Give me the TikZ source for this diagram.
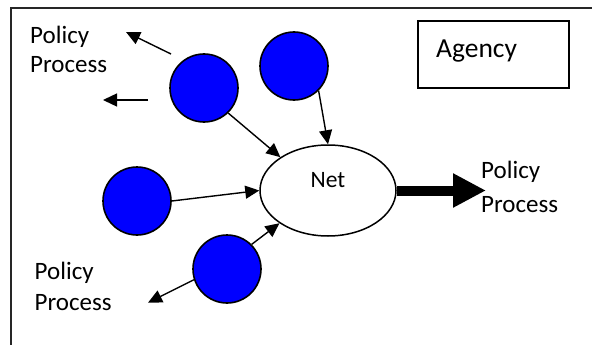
\documentclass[tikz,border=0pt]{standalone}
\usepackage{fontspec}
\setmainfont{Carlito}
\usetikzlibrary{arrows.meta,shapes.geometric}
\definecolor{dotblue}{RGB}{0,0,255}
\tikzset{
  agent/.style={circle,draw=black,line width=1.6pt,fill=dotblue,minimum size=68pt,inner sep=0pt},
  conn/.style={line width=1.4pt,-{Triangle[length=14pt,width=13pt]}},
  lbl/.style={inner sep=0pt,anchor=base west,align=left,font=\fontsize{25}{30}\selectfont},
}
\begin{document}
\begin{tikzpicture}[x=1pt,y=-1pt]
\useasboundingbox (0,0) rectangle (592,345);
% frame
\draw[line width=1.5pt,draw=black!85] (11,345) -- (11,8) -- (592,8);
% agency box
\node[draw,line width=1.5pt,minimum width=151pt,minimum height=67pt,inner sep=0pt] (agbox) at (493.3,54.3) {};
\node[inner sep=0pt,anchor=base west,font=\fontsize{27.5}{30}\selectfont] (agency) at (436,57.3) {Agency};
% net
\node[ellipse,draw,line width=1.5pt,minimum width=136pt,minimum height=91pt,inner sep=0pt] (net) at (328,190.5) {};
\node[inner sep=0pt,anchor=base west,font=\fontsize{23.5}{28}\selectfont] (nettext) at (310.5,187.7) {Net};
% agents
\node[agent] (c1) at (204,88) {};
\node[agent] (c2) at (294,66) {};
\node[agent] (c3) at (137,201) {};
\node[agent] (c4) at (227,269) {};
% labels
\node[lbl] (pp1) at (30,73) {Policy\\[-0.5pt]Process};
\node[lbl] (pp2) at (481,212.7) {Policy\\[4.4pt]Process};
\node[lbl] (pp3) at (34.5,310) {Policy\\[0.7pt]Process};
% free ends
\coordinate (a1s) at (171,54);
\coordinate (a1e) at (126,32);
\coordinate (a2s) at (148,100);
\coordinate (a2e) at (103,100);
\coordinate (a3e) at (148,302.7);
\coordinate (tip) at (486,190.5);
% connectors
\draw[conn] (a1s) -- (a1e);
\draw[conn] (a2s) -- (a2e);
\draw[conn] (c1.-46) -- (net.145);
\draw[conn] (c2.-45) -- (net.north);
\draw[conn] (c3.east) -- (net.west);
\draw[conn] (c4.45) -- (net.214);
\draw[conn] (c4.198) -- (a3e);
\draw[line width=10pt,-{Triangle[length=33pt,width=32pt]}] (net.east) -- (tip);
\end{tikzpicture}
\end{document}
